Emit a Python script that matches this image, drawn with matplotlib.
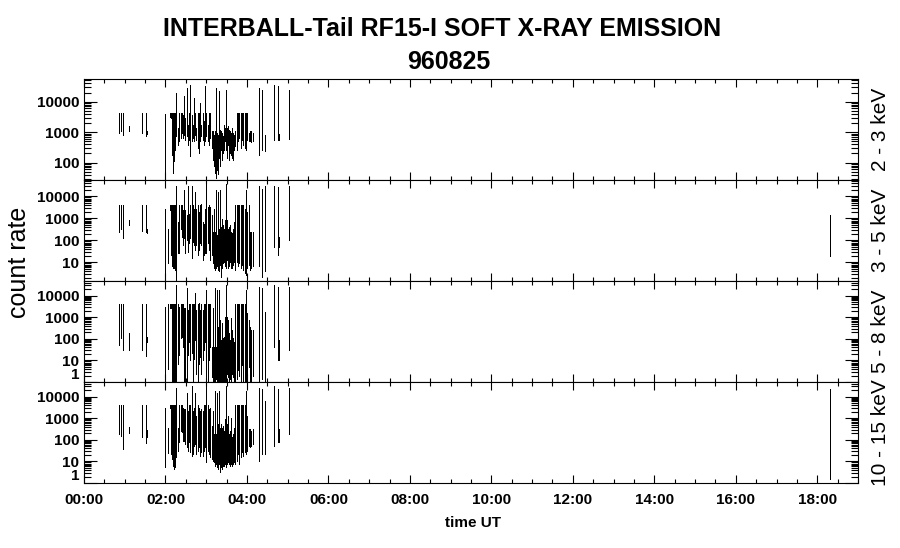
import numpy as np
import matplotlib
matplotlib.use("Agg")
import matplotlib.pyplot as plt
from matplotlib.ticker import LogLocator, NullFormatter, MultipleLocator

plt.rcParams['font.family'] = ['Liberation Sans', 'DejaVu Sans']

nan = np.nan

# time of each burst stroke, hours UT (same for all four channels)
t_hours = [0.868, 0.900, 0.966, 1.113, 1.432, 1.522, 1.547, 1.997, 2.071, 2.103,
           2.128, 2.161, 2.185, 2.210, 2.234, 2.267, 2.300, 2.341, 2.373, 2.398,
           2.431, 2.455, 2.488, 2.521, 2.553, 2.586, 2.611, 2.643, 2.676, 2.701,
           2.733, 2.758, 2.791, 2.815, 2.848, 2.881, 2.914, 2.938, 2.971, 3.004,
           3.036, 3.069, 3.102, 3.135, 3.159, 3.184, 3.208, 3.233, 3.257, 3.282,
           3.306, 3.331, 3.355, 3.380, 3.405, 3.437, 3.462, 3.486, 3.511, 3.536,
           3.560, 3.585, 3.609, 3.634, 3.658, 3.683, 3.716, 3.748, 3.781, 3.814,
           3.847, 3.879, 3.912, 3.945, 3.978, 4.010, 4.043, 4.076, 4.108, 4.141,
           4.305, 4.362, 4.452, 4.673, 4.771, 4.788, 5.041, 18.32]

# 2 - 3 keV
hi_2_3 = [4300, 4300, 4300, 1560, 4300, 4300, 1120, 4000, nan, 4300,
          4300, 4300, 4300, 4300, 4300, 19000, 1370, 4300, 4300, 4300,
          3800, 15000, 2900, 28000, 1770, 4300, 36000, 3800, 1770, 13200,
          4300, 1370, 4300, 4300, 9100, 1770, 4300, 2300, 32000, 4300,
          1770, 4300, 4300, 1070, 1070, 830, 1070, 28000, 940, 830,
          22000, 1210, 1070, 940, 730, 1770, 1370, 25000, 1370, 1560,
          1210, 1070, 940, 1370, 940, 830, 1070, 4300, 4300, 4300,
          4300, 4300, 4300, 4300, 4300, 4300, 940, 1070, 1070, 940,
          28000, 25000, 830, 36000, 32000, 870, 25000, nan]
lo_2_3 = [940, 1070, 790, 1120, 940, 730, 870, 28, nan, 3100,
          2900, 180, 46, 110, 270, 730, 390, 500, 650, 940,
          650, 830, 570, 730, 390, 570, 160, 500, 650, 500,
          830, 570, 300, 210, 500, 730, 570, 390, 500, 730,
          500, 390, 650, 300, 126, 76, 46, 31, 59, 41,
          140, 76, 270, 126, 210, 270, 500, 270, 140, 390,
          126, 210, 180, 140, 126, 270, 340, 270, 500, 650,
          300, 570, 390, 300, 270, 570, 500, 500, 480, 530,
          180, 270, 250, 570, 570, 570, 610, nan]

# 3 - 5 keV
hi_3_5 = [4200, 4200, 4200, 830, 4200, 4200, 330, 2800, 350, 4200,
          4200, 4200, 4200, 4200, 4200, 31000, 700, 4200, 4200, 4200,
          2350, 19000, 2350, 1400, 31000, 1660, 4200, 31000, 3900, 2800,
          16000, 2800, 4200, 2000, 4200, 4700, 700, 590, 2800, 37000,
          3300, 3900, 3300, 1400, 250, 2800, 250, 19000, 175, 16000,
          350, 19000, 420, 990, 500, 350, 830, 37000, 830, 350,
          420, 500, 250, 210, 350, 700, 4200, 4200, 4200, 4200,
          4200, 3900, 3900, 2800, 19000, 2000, 3900, 250, 250, 250,
          31000, 22000, 31000, 31000, 26000, 150, 31000, 1500]
lo_3_5 = [250, 350, 133, 500, 270, 250, 230, 2.1, 9.3, 2350,
          22, 6.6, 5.5, 5.5, 4.7, 1.65, 26, 26, 350, 150,
          62, 124, 26, 104, 31, 74, 124, 16, 88, 62,
          37, 62, 22, 37, 74, 62, 13, 22, 26, 26,
          74, 37, 13, 22, 9.3, 5.5, 4.7, 5.5, 6.6, 4.7,
          3.9, 7.8, 2.3, 5.5, 9.3, 11, 6.6, 5.5, 13, 5.5,
          6.6, 11, 5.5, 5.5, 7.8, 11, 4.7, 11, 6.6, 9.3,
          5.5, 7.8, 4.7, 3.3, 2.8, 5.5, 7.8, 4.7, 5.5, 6.6,
          6.6, 2.3, 3.9, 52, 22, 52, 104, 20]

# 5 - 8 keV
hi_5_8 = [4100, 4100, 4100, 190, 4100, 4100, 124, 3100, 4100, 4100,
          4100, 4100, 4100, 4100, 4100, 31000, 4100, 3100, 4100, 4100,
          4100, 2600, 2600, 22000, 2200, 4100, 4100, 4100, 4100, 4100,
          12900, 2200, 4100, 4400, 2200, 4100, 2200, 4100, 4100, 18400,
          4100, 4100, 4100, 43, 2600, 43, 22000, 43, 18400, 360,
          18400, 740, 87, 520, 104, 124, 1060, 31000, 1060, 740,
          180, 87, 890, 250, 104, 73, 4100, 4100, 4100, 4100,
          4100, 4100, 4100, 4100, 18400, 1500, 740, 360, 250, 250,
          26000, 22000, 1800, 31000, 26000, 87, 26000, nan]
lo_5_8 = [51, 104, 32, 30, 30, 16, 73, 1.2, 4.2, 2600,
          2600, 1, 1, 1, 1, 1, 7.1, 17, 104, 124,
          43, 1, 1, 1, 17, 73, 10, 21, 1, 12,
          87, 2.4, 1, 7.1, 15, 2.4, 10, 30, 73, 1,
          1, 10, 43, 1.7, 1, 1, 1, 1.4, 1, 1,
          1, 1, 1, 1, 1, 1, 1, 1, 2.4, 1.7,
          1, 1.4, 1, 2.4, 1.7, 1, 1, 1.4, 3.5, 2.0,
          1, 6.0, 1, 1, 1, 1, 5.0, 1, 1, 2.0,
          1, 1.4, 1, 43, 10, 10, 30, nan]

# 10 - 15 keV
hi_10_15 = [4100, 4100, 4100, 400, 4100, 4100, 280, 3100, 370, 4100,
            4100, 4100, 4100, 4100, 4100, 24000, 370, 4100, 4100, 4100,
            3100, 2600, 2600, 15300, 2200, 4100, 4100, 31000, 2200, 3100,
            15300, 1290, 4100, 3100, 2200, 2600, 2200, 4100, 4100, 31000,
            4100, 2600, 3100, 450, 2200, 180, 18300, 180, 15300, 530,
            18300, 370, 530, 370, 450, 260, 900, 31000, 530, 1290,
            180, 260, 1080, 129, 180, 370, 4100, 4100, 4100, 4100,
            4100, 4100, 4100, 4100, 18300, 1290, 310, 310, 260, 310,
            26000, 22000, 6300, 31000, 22000, 310, 26000, 22000]
lo_10_15 = [180, 154, 37, 200, 139, 68, 129, 5.8, 24, 3100,
            22, 13, 6.4, 4.5, 5.4, 15.5, 31, 76, 260, 220,
            91, 91, 64, 45, 31, 76, 26, 18.5, 22, 53,
            64, 22, 31, 45, 18.5, 26, 18.5, 31, 45, 9.1,
            31, 22, 15.5, 13, 10.9, 9.1, 6.4, 7.6, 5.4, 4.5,
            7.6, 3.2, 5.4, 4.5, 6.4, 6.4, 7.6, 5.4, 7.6, 9.1,
            7.6, 6.4, 7.6, 6.4, 7.6, 9.1, 7.6, 10.9, 22, 7.6,
            15.5, 26, 18.5, 26, 22, 31, 53, 45, 53, 64,
            10.9, 22, 22, 53, 76, 76, 180, 1.6]

channels = ["2 - 3 keV", "3 - 5 keV", "5 - 8 keV", "10 - 15 keV"]
highs = [hi_2_3, hi_3_5, hi_5_8, hi_10_15]
lows = [lo_2_3, lo_3_5, lo_5_8, lo_10_15]
y_ranges = [(27, 55500), (1.44, 56000), (1, 48000), (1, 48000)]
y_decades = [[100, 1000, 10000], [10, 100, 1000, 10000],
             [1, 10, 100, 1000, 10000], [1, 10, 100, 1000, 10000]]
hour_ticks = list(range(0, 19, 2))
hour_labels = [f"{h:02d}:00" for h in hour_ticks]

W, H = 900, 548
fig = plt.figure(figsize=(W / 100, H / 100), dpi=100)
x0, x1 = 84 / W, 858 / W
y_top, y_bot = 1 - 79 / H, 1 - 483 / H
ph = (y_top - y_bot) / 4

t = np.array(t_hours)
for i in range(4):
    ax = fig.add_axes([x0, y_top - (i + 1) * ph, x1 - x0, ph])
    hi = np.array(highs[i], dtype=float)
    lo = np.array(lows[i], dtype=float)
    ok = ~np.isnan(hi)
    ax.vlines(t[ok], lo[ok], hi[ok], colors='black', linewidth=0.72,
              antialiased=False)
    ax.set_yscale('log')
    ax.set_xlim(0, 19)
    ax.set_ylim(*y_ranges[i])
    ax.set_yticks(y_decades[i])
    ax.set_yticklabels([str(v) for v in y_decades[i]])
    ax.yaxis.set_minor_locator(LogLocator(base=10, subs=np.arange(2, 10), numticks=20))
    ax.yaxis.set_minor_formatter(NullFormatter())
    ax.set_xticks(hour_ticks)
    ax.xaxis.set_minor_locator(MultipleLocator(0.5))
    if i == 3:
        ax.set_xticklabels(hour_labels)
    else:
        ax.set_xticklabels([])
    for s in ax.spines.values():
        s.set_linewidth(0.8)
    ax.tick_params(axis='both', which='both', direction='in', top=True,
                   right=True, width=0.8, labelsize=11, color='black')
    ax.tick_params(axis='x', which='major', length=6, pad=7)
    ax.tick_params(axis='x', which='minor', length=3)
    ax.tick_params(axis='y', which='major', length=9.5, pad=3.5)
    ax.tick_params(axis='y', which='minor', length=5)
    for lab in ax.get_xticklabels() + ax.get_yticklabels():
        lab.set_fontweight('bold')
    for tk, v in zip(ax.yaxis.get_major_ticks(), y_decades[i]):
        if v == 1:
            tk.label1.set_va('bottom')
    yc = 1 - (79 + (i + 0.5) * 101) / H
    fig.text(880 / W, yc, channels[i], rotation=90, ha='center', va='center',
             fontsize=15)

fig.text(442 / W, 1 - 36 / H, "INTERBALL-Tail RF15-I SOFT X-RAY EMISSION",
         ha='center', va='baseline', fontsize=18, fontweight='bold')
fig.text(449 / W, 1 - 69 / H, "960825", ha='center', va='baseline',
         fontsize=18, fontweight='bold')
fig.text(19 / W, 1 - 262 / H, "count rate", rotation=90, ha='center',
         va='center', fontsize=18)
fig.text(473 / W, 1 - 527 / H, "time UT", ha='center', va='baseline',
         fontsize=11, fontweight='bold')

fig.savefig("out.png", dpi=100, facecolor='white')
